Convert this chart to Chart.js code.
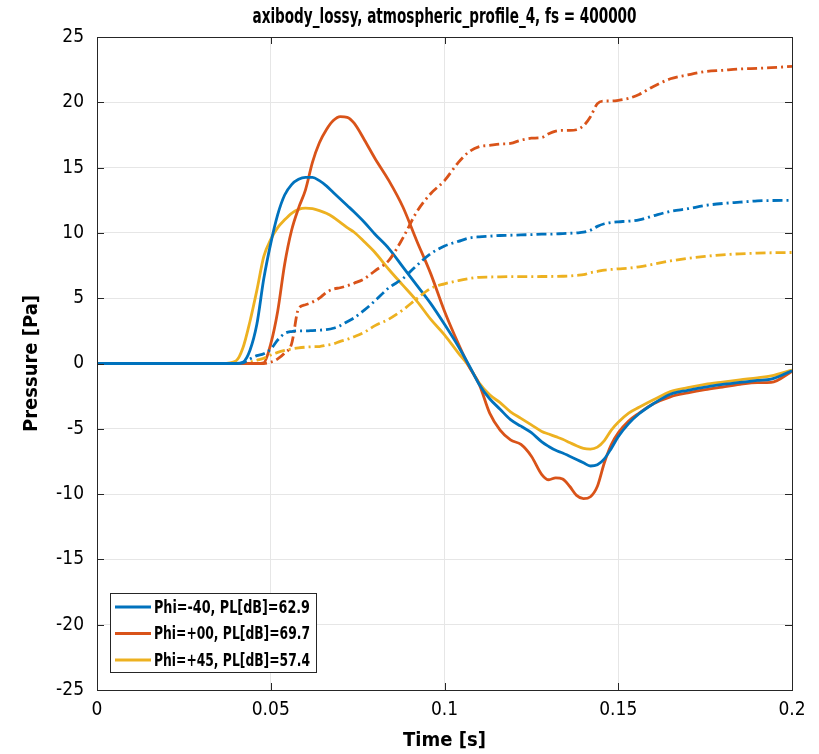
<!DOCTYPE html>
<html>
<head>
<meta charset="utf-8">
<script src="https://cdn.jsdelivr.net/npm/chart.js@4"></script>
<style>
  html, body { margin: 0; padding: 0; background: #fff; }
  #wrap { width: 819px; height: 754px; }
</style>
</head>
<body>
<div id="wrap"><canvas id="myChart" width="819" height="754"></canvas></div>
<script>
// time axis [s], shared by all series
const time = [0, 0.036, 0.040, 0.042, 0.044, 0.046, 0.048, 0.050, 0.052, 0.054,
  0.056, 0.058, 0.060, 0.062, 0.064, 0.066, 0.068, 0.070, 0.072, 0.074,
  0.077, 0.080, 0.084, 0.088, 0.092, 0.096, 0.100, 0.104, 0.107, 0.110,
  0.113, 0.116, 0.119, 0.122, 0.125, 0.128, 0.130, 0.132, 0.134, 0.136,
  0.138, 0.140, 0.142, 0.144, 0.146, 0.148, 0.150, 0.153, 0.156, 0.160,
  0.165, 0.170, 0.175, 0.180, 0.185, 0.190, 0.194, 0.200];

// pressure signals [Pa]
const phiM40 = [0, 0, 0, 0.1, 1.0, 3.0, 6.5, 9.2, 11.4, 12.9,
  13.7, 14.1, 14.25, 14.25, 14.0, 13.6, 13.1, 12.6, 12.1, 11.6,
  10.8, 9.9, 8.8, 7.4, 6.0, 4.6, 3.0, 1.3, -0.1, -1.6,
  -2.7, -3.5, -4.3, -4.8, -5.3, -6.0, -6.35, -6.65, -6.85, -7.1,
  -7.35, -7.6, -7.85, -7.75, -7.3, -6.5, -5.6, -4.6, -3.85, -3.1,
  -2.35, -2.05, -1.8, -1.6, -1.45, -1.3, -1.2, -0.55];
const phi00 = [0, 0, 0, 0, 0, 0, 0.05, 1.5, 4.0, 7.6,
  10.2, 11.9, 13.3, 15.4, 16.9, 17.9, 18.6, 18.9, 18.85, 18.4,
  17.1, 15.7, 14.0, 12.0, 9.4, 6.9, 4.0, 1.5, -0.2, -1.6,
  -3.8, -5.1, -5.85, -6.2, -7.1, -8.5, -8.9, -8.75, -8.85, -9.4,
  -10.1, -10.35, -10.2, -9.4, -7.6, -6.2, -5.3, -4.4, -3.8, -3.1,
  -2.55, -2.25, -2.0, -1.8, -1.6, -1.47, -1.45, -0.6];
const phiP45 = [0, 0, 0.2, 1.2, 3.2, 5.6, 8.2, 9.5, 10.4, 11.0,
  11.5, 11.8, 11.9, 11.85, 11.7, 11.5, 11.2, 10.8, 10.4, 10.05,
  9.3, 8.5, 7.2, 6.0, 4.8, 3.4, 2.2, 0.8, -0.2, -1.5,
  -2.4, -3.0, -3.7, -4.2, -4.7, -5.2, -5.4, -5.6, -5.8, -6.05,
  -6.3, -6.5, -6.55, -6.4, -5.9, -5.1, -4.5, -3.8, -3.35, -2.8,
  -2.15, -1.85, -1.6, -1.42, -1.25, -1.1, -0.95, -0.5];

// running (dash-dot) curves
const cumM40 = [0, 0, 0, 0.05, 0.35, 0.6, 0.75, 1.1, 1.8, 2.3,
  2.45, 2.5, 2.5, 2.52, 2.55, 2.6, 2.7, 2.9, 3.2, 3.5,
  4.1, 4.8, 5.8, 6.5, 7.5, 8.4, 9.0, 9.35, 9.6, 9.7,
  9.75, 9.8, 9.82, 9.85, 9.87, 9.9, 9.9, 9.92, 9.95, 9.97,
  10.0, 10.05, 10.2, 10.5, 10.7, 10.8, 10.85, 10.9, 11.0, 11.3,
  11.65, 11.85, 12.1, 12.25, 12.35, 12.45, 12.48, 12.5];
const cum00 = [0, 0, 0, 0, 0, 0, 0, 0.1, 0.35, 0.8,
  1.5, 4.2, 4.5, 4.7, 5.0, 5.45, 5.7, 5.8, 5.95, 6.15,
  6.5, 7.1, 7.9, 9.6, 11.6, 13.0, 14.0, 15.4, 16.2, 16.6,
  16.7, 16.8, 16.85, 17.1, 17.25, 17.3, 17.6, 17.8, 17.85, 17.85,
  17.9, 18.2, 18.9, 19.9, 20.1, 20.1, 20.15, 20.3, 20.6, 21.2,
  21.8, 22.1, 22.35, 22.45, 22.55, 22.6, 22.65, 22.75];
const cumP45 = [0, 0, 0, 0, 0.1, 0.25, 0.4, 0.65, 0.85, 1.0,
  1.12, 1.2, 1.25, 1.28, 1.3, 1.4, 1.5, 1.7, 1.85, 2.05,
  2.4, 2.9, 3.4, 4.1, 4.95, 5.75, 6.1, 6.35, 6.5, 6.6,
  6.62, 6.64, 6.65, 6.65, 6.65, 6.66, 6.66, 6.67, 6.68, 6.7,
  6.75, 6.8, 6.95, 7.05, 7.15, 7.2, 7.25, 7.3, 7.4, 7.6,
  7.85, 8.05, 8.2, 8.32, 8.4, 8.45, 8.48, 8.5];

const legendLabels = ["Phi=-40, PL[dB]=62.9", "Phi=+00, PL[dB]=69.7", "Phi=+45, PL[dB]=57.4"];
const colors = ["#0072BD", "#D95319", "#EDB120"];
const yTicks = [-25, -20, -15, -10, -5, 0, 5, 10, 15, 20, 25];
const xTicks = [0, 0.05, 0.1, 0.15, 0.2];

const FONT = "'DejaVu Sans Condensed', 'Liberation Sans Narrow', 'Liberation Sans', sans-serif";
const pts = arr => arr.map((v, i) => ({ x: time[i], y: v }));

function series(values, color, label, dashed) {
  return {
    label: label,
    data: pts(values),
    borderColor: color,
    backgroundColor: color,
    borderWidth: 2.8,
    borderDash: dashed ? [10, 4, 2, 4] : [],
    pointRadius: 0,
    cubicInterpolationMode: "monotone",
    fill: false,
  };
}

// draw text squeezed to a given width (the original uses a narrow face)
function narrowText(ctx, text, x, y, width) {
  const w = ctx.measureText(text).width;
  const k = Math.min(1, width / w);
  ctx.save();
  ctx.translate(x, y);
  ctx.scale(k, 1);
  ctx.fillText(text, 0, 0);
  ctx.restore();
}

// box, inner ticks, title and in-plot legend, matlab style
const matlabFrame = {
  id: "matlabFrame",
  afterDraw(chart) {
    const ctx = chart.ctx;
    const a = chart.chartArea;
    const sx = chart.scales.x, sy = chart.scales.y;
    ctx.save();
    ctx.strokeStyle = "#262626";
    ctx.lineWidth = 1;
    ctx.strokeRect(a.left + 0.5, a.top + 0.5, a.right - a.left, a.bottom - a.top);
    ctx.beginPath();
    xTicks.forEach(v => {
      const p = Math.round(sx.getPixelForValue(v)) + 0.5;
      ctx.moveTo(p, a.bottom); ctx.lineTo(p, a.bottom - 7);
      ctx.moveTo(p, a.top); ctx.lineTo(p, a.top + 7);
    });
    yTicks.forEach(v => {
      const p = Math.round(sy.getPixelForValue(v)) + 0.5;
      ctx.moveTo(a.left, p); ctx.lineTo(a.left + 7, p);
      ctx.moveTo(a.right, p); ctx.lineTo(a.right - 7, p);
    });
    ctx.stroke();

    // title
    ctx.fillStyle = "#000";
    ctx.font = "bold 22px " + FONT;
    ctx.textAlign = "center";
    ctx.textBaseline = "middle";
    narrowText(ctx, "axibody_lossy, atmospheric_profile_4, fs = 400000", (a.left + a.right) / 2, 17, 384);

    // legend
    const lx = 110, ly = 593, lw = 206, lh = 79;
    ctx.fillStyle = "#fff";
    ctx.fillRect(lx, ly, lw, lh);
    ctx.strokeStyle = "#262626";
    ctx.strokeRect(lx + 0.5, ly + 0.5, lw, lh);
    ctx.font = "bold 18px " + FONT;
    ctx.textAlign = "left";
    legendLabels.forEach((t, i) => {
      const yy = ly + 14 + i * 26.5;
      ctx.strokeStyle = colors[i];
      ctx.lineWidth = 2.8;
      ctx.beginPath();
      ctx.moveTo(lx + 5, yy); ctx.lineTo(lx + 41, yy);
      ctx.stroke();
      ctx.fillStyle = "#000";
      narrowText(ctx, t, lx + 44, yy + 1, 156);
    });
    ctx.restore();
  },
};

new Chart(document.getElementById("myChart").getContext("2d"), {
  type: "line",
  data: {
    datasets: [
      series(cumM40, colors[0], "cum -40", true),
      series(cum00, colors[1], "cum +00", true),
      series(cumP45, colors[2], "cum +45", true),
      series(phiM40, colors[0], legendLabels[0], false),
      series(phi00, colors[1], legendLabels[1], false),
      series(phiP45, colors[2], legendLabels[2], false),
    ],
  },
  options: {
    responsive: false,
    animation: false,
    layout: { padding: { top: 37, right: 27, left: 0, bottom: 0 } },
    plugins: {
      legend: { display: false },
      title: { display: false },
      tooltip: { enabled: false },
    },
    scales: {
      x: {
        type: "linear",
        min: 0,
        max: 0.2,
        afterBuildTicks: s => { s.ticks = xTicks.map(v => ({ value: v })); },
        afterFit: s => { s.height = 64; },
        grid: { color: "#e6e6e6", drawTicks: false },
        border: { display: false },
        ticks: {
          color: "#000",
          padding: 9,
          font: { family: FONT, size: 19 },
          callback: v => String(v),
        },
        title: {
          display: true,
          text: "Time [s]",
          color: "#000",
          font: { family: FONT, size: 20, weight: "bold" },
          padding: { top: 0, bottom: 1 },
        },
      },
      y: {
        min: -25,
        max: 25,
        afterBuildTicks: s => { s.ticks = yTicks.map(v => ({ value: v })); },
        afterFit: s => { s.width = 97; },
        grid: { color: "#e6e6e6", drawTicks: false },
        border: { display: false },
        ticks: {
          color: "#000",
          padding: 13,
          font: { family: FONT, size: 19 },
        },
        title: {
          display: true,
          text: "Pressure [Pa]",
          color: "#000",
          font: { family: FONT, size: 20, weight: "bold" },
          padding: { top: 20, bottom: 0 },
        },
      },
    },
  },
  plugins: [matlabFrame],
});
</script>
</body>
</html>
